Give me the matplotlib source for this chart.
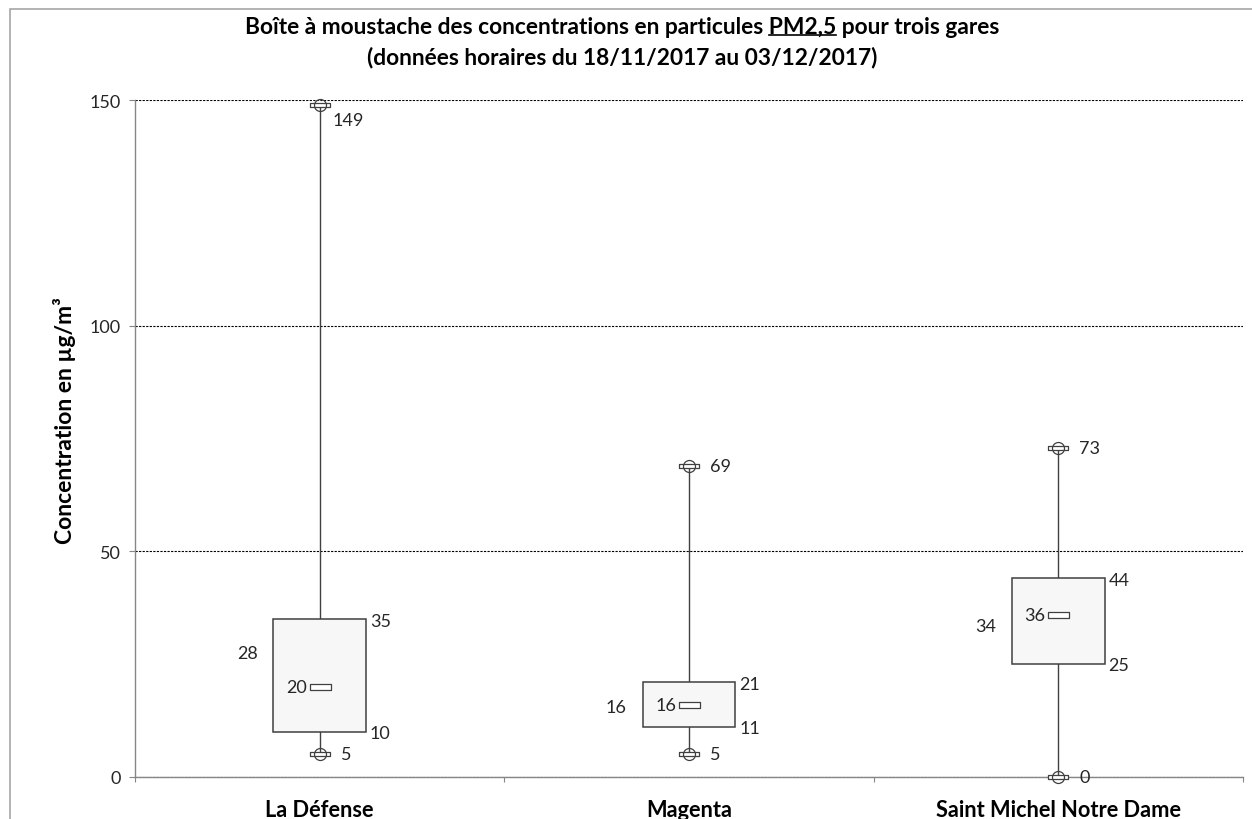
import matplotlib
matplotlib.use("Agg")
import matplotlib.pyplot as plt
from matplotlib.patches import Rectangle
from matplotlib.path import Path
from matplotlib.lines import Line2D

# PM2.5 hourly statistics per station (µg/m³)
stations = ["La Défense", "Magenta", "Saint Michel Notre Dame"]
minimum = [5, 5, 0]
q1 = [10, 11, 25]
median = [20, 16, 36]
mean = [28, 16, 34]
q3 = [35, 21, 44]
maximum = [149, 69, 73]
yticks = [0, 50, 100, 150]

FONT = ["Lato", "DejaVu Sans"]
plt.rcParams["font.family"] = FONT

W, H = 1252, 820
fig = plt.figure(figsize=(W / 100, H / 100), dpi=100)
ax = fig.add_axes([135 / W, 1 - 778 / H, (1243 - 135) / W, (778 - 101) / H])

EDGE = "#404040"
TXT = "#262626"
PX = 0.72  # points per pixel at 100 dpi

# flat rectangle marker (width = markersize, height = markersize/4)
bar_marker = Path([(-1, -0.25), (1, -0.25), (1, 0.25), (-1, 0.25), (-1, -0.25)],
                  [Path.MOVETO, Path.LINETO, Path.LINETO, Path.LINETO, Path.CLOSEPOLY])

box_w = 0.25
ax.set_xlim(-0.5, 2.5)
ax.set_ylim(0, 150)

for i in range(len(stations)):
    # whiskers
    ax.plot([i, i], [minimum[i], q1[i]], color=EDGE, lw=1.0, zorder=2, clip_on=False)
    ax.plot([i, i], [q3[i], maximum[i]], color=EDGE, lw=1.0, zorder=2, clip_on=False)
    # box
    ax.add_patch(Rectangle((i - box_w / 2, q1[i]), box_w, q3[i] - q1[i],
                           facecolor="#f7f7f7", edgecolor=EDGE, lw=1.1, zorder=3))
    # median
    ax.plot([i], [median[i]], marker=bar_marker, ms=21 * PX, mfc="white",
            mec=EDGE, mew=0.9, ls="none", zorder=4)
    # min / max markers
    for v in (minimum[i], maximum[i]):
        ax.plot([i], [v], marker=bar_marker, ms=20 * PX, mfc="white",
                mec=EDGE, mew=0.9, ls="none", zorder=4, clip_on=False)
        ax.plot([i], [v], marker="o", ms=12 * PX, mfc="none",
                mec=EDGE, mew=0.9, ls="none", zorder=5, clip_on=False)

    lab = dict(fontsize=13, color=TXT, textcoords="offset points", annotation_clip=False)
    # max label (pushed below the marker when it sits against the top)
    if maximum[i] > 140:
        ax.annotate(f"{maximum[i]}", (i, maximum[i]), xytext=(13 * PX, -15 * PX),
                    ha="left", va="center", **lab)
    else:
        ax.annotate(f"{maximum[i]}", (i, maximum[i]), xytext=(21 * PX, 0),
                    ha="left", va="center", **lab)
    ax.annotate(f"{minimum[i]}", (i, minimum[i]), xytext=(21 * PX, 0),
                ha="left", va="center", **lab)
    # quartile labels at the right edge of the box
    ax.annotate(f"{q3[i]}", (i + box_w / 2, q3[i]), xytext=(4 * PX, -2 * PX),
                ha="left", va="center", **lab)
    ax.annotate(f"{q1[i]}", (i + box_w / 2, q1[i]), xytext=(4 * PX, -1 * PX),
                ha="left", va="center", **lab)
    # median label
    ax.annotate(f"{median[i]}", (i, median[i]), xytext=(-13 * PX, 0),
                ha="right", va="center", **lab)
    # mean label, left of the box
    ax.annotate(f"{mean[i]}", (i - box_w / 2, mean[i]), xytext=(-16 * PX, -2 * PX),
                ha="right", va="center", **lab)

# axes styling
for s in ("top", "right"):
    ax.spines[s].set_visible(False)
for s in ("left", "bottom"):
    ax.spines[s].set_color("#868686")
    ax.spines[s].set_linewidth(1.0)

ax.set_yticks(yticks)
ax.set_yticklabels([str(t) for t in yticks])
ax.tick_params(axis="y", length=6 * PX, color="#868686", labelsize=13,
               labelcolor=TXT, pad=8 * PX)
ax.set_xticks([-0.5, 0.5, 1.5, 2.5])
ax.set_xticklabels([])
ax.tick_params(axis="x", which="major", length=5 * PX, color="#868686")
ax.set_xticks(range(len(stations)), minor=True)
ax.set_xticklabels(stations, minor=True, fontweight="bold", fontsize=15.7, color="black")
ax.tick_params(axis="x", which="minor", length=0, pad=15.5)

ax.yaxis.grid(True, color="black", lw=0.8, ls=(0, (2, 1.2)))
ax.set_axisbelow(True)

fig.text(64 / W, 1 - 421 / H, "Concentration en µg/m³", rotation=90,
         ha="center", va="center", fontsize=16.5, fontweight="bold", color="black")

# title
t1_pre = "Boîte à moustache des concentrations en particules "
t1_u = "PM2,5"
t1 = fig.text(622 / W, 1 - 27 / H, t1_pre + t1_u + " pour trois gares",
              ha="center", va="center", fontsize=16.4, fontweight="bold")
fig.text(622 / W, 1 - 58 / H, "(données horaires du 18/11/2017 au 03/12/2017)",
         ha="center", va="center", fontsize=16.4, fontweight="bold")

renderer = fig.canvas.get_renderer()
bb = t1.get_window_extent(renderer)
fp = t1.get_fontproperties()
w_pre, _, _ = renderer.get_text_width_height_descent(t1_pre, fp, ismath=False)
w_u, _, _ = renderer.get_text_width_height_descent(t1_u, fp, ismath=False)
x0 = bb.x0 + w_pre
y_u = bb.y0 + 2
fig.add_artist(Line2D([x0 / W, (x0 + w_u) / W], [y_u / H, y_u / H],
                      transform=fig.transFigure, color="black", lw=1.2))

# outer frame
fig.add_artist(Rectangle((10 / W, -0.05), 1.5, 1.05 - 10 / H,
                         transform=fig.transFigure, fill=False,
                         edgecolor="#a6a6a6", lw=1.2))

fig.savefig("out.png", dpi=100)
